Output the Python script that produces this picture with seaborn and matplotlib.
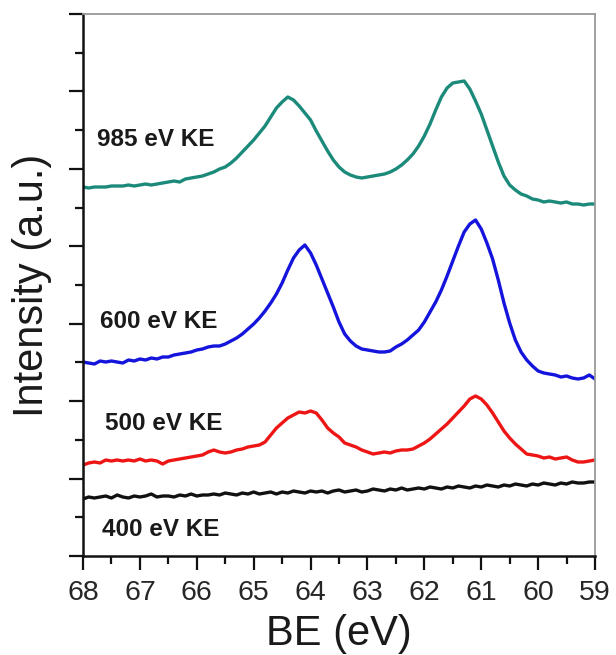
import matplotlib
matplotlib.use("Agg")
import matplotlib.pyplot as plt
from matplotlib.ticker import MultipleLocator
import seaborn as sns

# binding energy grid (eV), 0.1 eV steps from 68 down to 59
be = [68.0, 67.9, 67.8, 67.7, 67.6, 67.5, 67.4, 67.3, 67.2, 67.1,
      67.0, 66.9, 66.8, 66.7, 66.6, 66.5, 66.4, 66.3, 66.2, 66.1,
      66.0, 65.9, 65.8, 65.7, 65.6, 65.5, 65.4, 65.3, 65.2, 65.1,
      65.0, 64.9, 64.8, 64.7, 64.6, 64.5, 64.4, 64.3, 64.2, 64.1,
      64.0, 63.9, 63.8, 63.7, 63.6, 63.5, 63.4, 63.3, 63.2, 63.1,
      63.0, 62.9, 62.8, 62.7, 62.6, 62.5, 62.4, 62.3, 62.2, 62.1,
      62.0, 61.9, 61.8, 61.7, 61.6, 61.5, 61.4, 61.3, 61.2, 61.1,
      61.0, 60.9, 60.8, 60.7, 60.6, 60.5, 60.4, 60.3, 60.2, 60.1,
      60.0, 59.9, 59.8, 59.7, 59.6, 59.5, 59.4, 59.3, 59.2, 59.1,
      59.0]

# intensities (a.u., offset stacked)
ke985 = [369, 368, 369, 369, 369, 370, 370, 370, 371, 370,
         371, 372, 371, 372, 373, 374, 375, 374, 377, 378,
         379, 380, 382, 384, 387, 389, 393, 398, 404, 410,
         416, 423, 430, 439, 448, 454, 459, 456, 450, 443,
         436, 425, 415, 405, 396, 389, 384, 381, 379, 378,
         379, 380, 381, 382, 384, 387, 391, 396, 402, 410,
         420, 432, 446, 459, 468, 473, 474, 475, 467, 455,
         442, 426, 410, 394, 380, 371, 366, 362, 360, 357,
         356, 354, 355, 354, 353, 354, 352, 352, 351, 352,
         352]

ke600 = [194, 193, 192, 195, 194, 195, 194, 193, 196, 195,
         197, 196, 198, 197, 199, 199, 201, 202, 203, 204,
         206, 207, 209, 210, 210, 212, 215, 218, 222, 227,
         232, 238, 245, 253, 262, 273, 286, 298, 306, 311,
         303, 291, 277, 263, 249, 234, 222, 215, 210, 207,
         206, 205, 204, 204, 205, 209, 212, 216, 221, 226,
         234, 244, 254, 266, 280, 295, 310, 324, 332, 336,
         327, 313, 297, 276, 253, 233, 216, 204, 196, 190,
         185, 183, 182, 181, 179, 180, 178, 177, 178, 181,
         177]

ke500 = [91, 93, 94, 93, 96, 95, 96, 95, 96, 95,
         97, 95, 96, 95, 92, 95, 96, 97, 98, 99,
         100, 101, 104, 106, 104, 103, 104, 106, 107, 109,
         110, 111, 114, 121, 128, 133, 138, 141, 144, 143,
         145, 143, 136, 128, 123, 119, 113, 111, 109, 106,
         104, 102, 103, 104, 103, 105, 106, 106, 107, 110,
         113, 117, 122, 127, 132, 138, 144, 150, 157, 160,
         157, 151, 143, 134, 125, 118, 112, 107, 102, 101,
         100, 98, 99, 97, 98, 99, 96, 94, 94, 95,
         96]

ke400 = [57, 59, 58, 59, 60, 58, 61, 59, 58, 60,
         59, 60, 62, 59, 60, 60, 59, 61, 60, 62,
         60, 61, 61, 62, 61, 63, 62, 61, 63, 62,
         64, 62, 63, 64, 62, 64, 63, 65, 64, 63,
         65, 64, 65, 63, 65, 66, 64, 65, 66, 64,
         65, 67, 66, 65, 67, 66, 68, 66, 67, 68,
         67, 69, 68, 67, 69, 68, 70, 69, 68, 70,
         69, 71, 70, 69, 71, 70, 72, 71, 70, 72,
         71, 73, 72, 71, 73, 72, 74, 73, 73, 74,
         74]

labels = ["985 eV KE", "600 eV KE", "500 eV KE", "400 eV KE"]
label_x = [67.75, 67.70, 67.61, 67.67]
label_y = [417, 235, 133, 26]

sns.set_style("ticks")
plt.rcParams["font.family"] = ["Liberation Sans", "DejaVu Sans"]

fig = plt.figure(figsize=(6.16, 6.55), dpi=100)
ax = fig.add_axes([83 / 616, 99 / 655, 512 / 616, 542 / 655])

series = [(ke985, "#1b8a7a"), (ke600, "#1414dc"), (ke500, "#ee1515"), (ke400, "#111111")]
for vals, col in series:
    sns.lineplot(x=be, y=vals, ax=ax, color=col, linewidth=2.4)

for txt, lx, ly in zip(labels, label_x, label_y):
    ax.text(lx, ly, txt, fontsize=17.5, fontweight="bold", color="#1a1a1a",
            ha="left", va="center")

ax.set_xlim(68, 59)
ax.set_ylim(0, 542)
ax.xaxis.set_major_locator(MultipleLocator(1))
ax.xaxis.set_minor_locator(MultipleLocator(0.5))
ax.yaxis.set_major_locator(MultipleLocator(542 / 7))
ax.yaxis.set_minor_locator(MultipleLocator(542 / 14))
ax.set_yticklabels([])
ax.tick_params(axis="both", which="major", direction="out", length=10, width=1.6,
               color="#111111", labelsize=20.5, pad=7)
ax.tick_params(axis="both", which="minor", direction="out", length=6, width=1.6,
               color="#111111")
ax.tick_params(axis="y", labelleft=False)

for side in ["left", "bottom"]:
    ax.spines[side].set_color("#111111")
    ax.spines[side].set_linewidth(1.8)
for side in ["top", "right"]:
    ax.spines[side].set_visible(True)
    ax.spines[side].set_color("#999999")
    ax.spines[side].set_linewidth(1.3)

ax.set_xlabel("BE (eV)", fontsize=30, labelpad=6, color="#1a1a1a")
ax.set_ylabel("Intensity (a.u.)", fontsize=30, labelpad=12, color="#1a1a1a")
ax.grid(False)

fig.savefig("out.png", dpi=100)
